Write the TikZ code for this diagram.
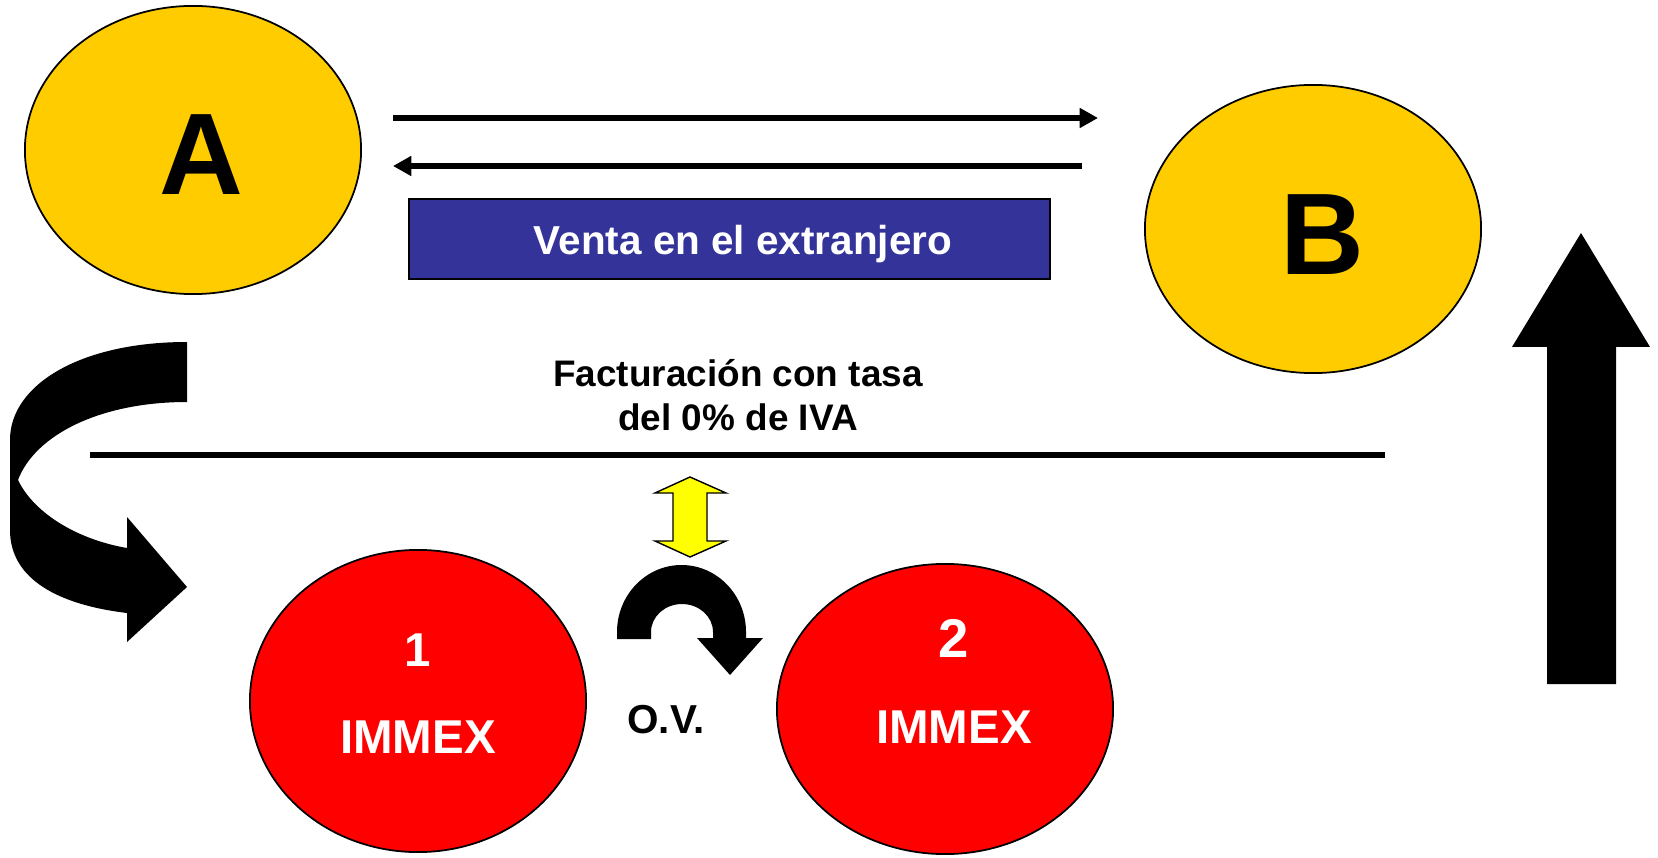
\documentclass[tikz,border=0pt]{standalone}
\usepackage{fontspec}
\setmainfont{Liberation Sans}
\usetikzlibrary{shapes.geometric,arrows.meta}
\definecolor{oro}{HTML}{FFCC00}
\definecolor{rojo}{HTML}{FF0000}
\definecolor{azul}{HTML}{333399}
\definecolor{amarillo}{HTML}{FFFF00}

\begin{document}
\begin{tikzpicture}[x=0.01cm, y=-0.01cm, >={Triangle[length=5.2pt,width=5.4pt]},
  elipse/.style={ellipse, draw, line width=0.5pt, inner sep=0pt, minimum width=3.36cm},
  letra/.style={font=\fontsize{33}{39}\selectfont\bfseries},
  blanco/.style={text=white, font=\fontsize{13.5}{16}\selectfont\bfseries},
  flecha/.style={->, line width=1.6pt}]
            \useasboundingbox (0,0) rectangle (1658,858);
            \node[elipse, fill=oro, minimum height=2.88cm] (A) at (193,150) {};
            \node[letra] (la) at (201,155) {A};
            \node[elipse, fill=oro, minimum height=2.88cm] (B) at (1313,229) {};
            \node[letra] (lb) at (1322,235) {B};
            \node[elipse, fill=rojo, minimum height=3.02cm] (uno) at (418,701) {};
            \node[blanco] (n1) at (418,650) {1};
            \node[blanco] (im1) at (418,737) {IMMEX};
            \node[elipse, fill=rojo, minimum height=2.90cm] (dos) at (945,709) {};
            \node[blanco, font=\fontsize{15.5}{18}\selectfont\bfseries] (n2) at (954,638) {2};
            \node[blanco] (im2) at (954,727) {IMMEX};
            \node[draw, fill=azul, line width=0.6pt, inner sep=0pt, minimum width=6.41cm, minimum height=0.8cm] (caja) at (729.5,239) {};
            \node[text=white, font=\fontsize{11.5}{14}\selectfont\bfseries, anchor=base] (venta) at (743,255) {Venta en el extranjero};
            \node[align=center, font=\fontsize{10.5}{12.5}\selectfont\bfseries] (fact) at (738,395) {Facturación con tasa\\del 0\% de IVA};
            \node[font=\fontsize{11.5}{13}\selectfont\bfseries] (ov) at (666,720) {O.V.};
            \coordinate (ida0) at (393,118);
            \coordinate (ida1) at (1098,118);
            \coordinate (vuelta0) at (1082,166);
            \coordinate (vuelta1) at (393,166);
            \coordinate (raya0) at (90,455);
            \coordinate (raya1) at (1385,455);
            \draw[flecha] (ida0) -- (ida1);
            \draw[flecha] (vuelta0) -- (vuelta1);
            \draw[line width=1.5pt] (raya0) -- (raya1);
            \draw[fill=amarillo, line width=0.4pt] (690,477) -- (726,493) -- (707,493) -- (707,541) -- (726,541) -- (690,557) -- (655,541) -- (673,541) -- (673,493) -- (655,493) -- cycle;
            \fill (617,639) -- (617,632) .. controls (617,595) and (646,565) .. (681.5,565) .. controls (717,565) and (746,595) .. (746,632) -- (746,638) -- (763,638) -- (730,675) -- (697,638) -- (713,638) -- (713,632) .. controls (713,616.5) and (699,604) .. (682,604) .. controls (665,604) and (651,616.5) .. (651,632) -- (651,639) -- cycle;
            \fill (187,342) .. controls (80,342) and (10,385) .. (10,440) -- (10,530) .. controls (10,580) and (60,605) .. (127,613) -- (127,642) -- (187,587) -- (127,517) -- (127,548) .. controls (80,540) and (35,515) .. (18,480) .. controls (35,435) and (100,402) .. (187,402) -- cycle;
            \fill (1547,684) -- (1547,347) -- (1512,347) -- (1581,233) -- (1650,347) -- (1616,347) -- (1616,684) -- cycle;
        \end{tikzpicture}
\end{document}
